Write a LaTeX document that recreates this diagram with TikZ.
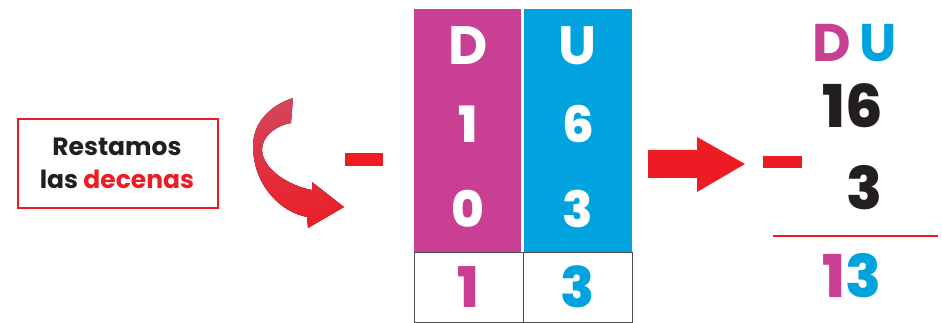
\documentclass[tikz,border=0pt]{standalone}
\usepackage{fontspec}
\setmainfont{Poppins}
\newfontfamily\heavy{Poppins ExtraBold}
\definecolor{mag}{HTML}{C83F94}
\definecolor{cyanb}{HTML}{00A3DD}
\definecolor{redr}{HTML}{ED1C24}
\definecolor{pinkr}{HTML}{D4475E}
\definecolor{ink}{HTML}{231F20}
\tikzset{
  big/.style={font=\fontsize{50}{50}\heavy, anchor=base, inner sep=0pt},
  head/.style={font=\fontsize{54}{54}\selectfont\bfseries, anchor=base, inner sep=0pt},
  bot/.style={font=\fontsize{56}{56}\heavy, anchor=base, inner sep=0pt},
  side/.style={font=\fontsize{59}{59}\heavy, anchor=base east, inner sep=0pt},
  sidehead/.style={font=\fontsize{53}{53}\selectfont\bfseries, anchor=base, inner sep=0pt},
  small/.style={font=\fontsize{25}{25}\selectfont\bfseries, anchor=base, inner sep=0pt},
  cell/.style={draw=ink!80, line width=1.2pt, minimum width=109pt, minimum height=70pt, anchor=north west, inner sep=0pt},
  col/.style={minimum width=107pt, minimum height=243pt, anchor=north west, inner sep=0pt},
  minusbar/.style={fill=redr, draw=none}
}
\begin{document}
\begin{tikzpicture}[x=1pt,y=-1pt]
\useasboundingbox (0,0) rectangle (942,323);
% label box
\node[draw=redr, line width=1.6pt, minimum width=200pt, minimum height=89pt, inner sep=0pt, anchor=north west] (box) at (17,118) {};
\node[small, text=ink] (t1) at (117,156) {Restamos};
\node[small, text=ink] (t2) at (117,189) {las \textcolor{redr}{decenas}};
% curved arrow
\fill[top color=pinkr, bottom color=redr, shading angle=0]
  (293,98) .. controls (268,106) and (252,125) .. (253,148)
  .. controls (254,185) and (280,212) .. (307,217)
  -- (308,228) -- (344,207) -- (312,182) -- (312,190)
  .. controls (290,186) and (263,170) .. (262,150)
  .. controls (262,135) and (278,125) .. (291,123) -- cycle;
% minus 1
\fill[minusbar] (345,153) rectangle (383,166);
% table
\node[col, fill=mag] (cd) at (414,9) {};
\node[col, fill=cyanb, minimum width=108pt] (cu) at (524,9) {};
\node[cell] (rd) at (414,252) {};
\node[cell] (ru) at (523,252) {};
\node[head, text=white] (hd) at (468,65) {D};
\node[head, text=white] (hu) at (578,65) {U};
\node[big, text=white] (a1) at (468,143) {1};
\node[big, text=white] (a6) at (578,143) {6};
\node[big, text=white] (b0) at (468,228) {0};
\node[big, text=white] (b3) at (578,228) {3};
\node[bot, text=mag] (r1) at (468,307) {1};
\node[bot, text=cyanb] (r3) at (578,307) {3};
% right arrow
\fill[redr] (648,150) -- (697,150) -- (697,137) -- (745,164) -- (697,192) -- (697,178) -- (648,178) -- cycle;
% minus 2
\fill[minusbar] (763,156) rectangle (802,168);
% vertical operation
\node[sidehead, text=mag] (vd) at (832,62) {D};
\node[sidehead, text=cyanb] (vu) at (878,62) {U};
\node[side, text=ink] (n16) at (883,128) {16};
\node[side, text=ink] (n3) at (883,210) {3};
\draw[redr, line width=2pt] (773,236) -- (938,236);
\node[side] (n13) at (882,297) {\textcolor{mag}{1}\textcolor{cyanb}{3}};
\end{tikzpicture}
\end{document}
